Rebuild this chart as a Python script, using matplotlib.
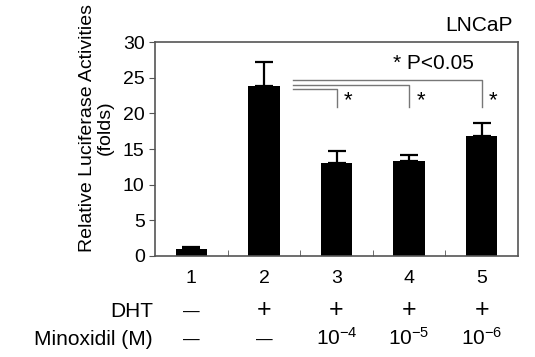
import numpy as np
import matplotlib.pyplot as plt

plt.rcParams['font.family'] = ['Liberation Sans', 'DejaVu Sans']

groups = [1, 2, 3, 4, 5]
means = [1.0, 23.8, 13.1, 13.3, 16.9]
errs = [0.2, 3.4, 1.6, 0.9, 1.7]
dht = ['\u2014', '+', '+', '+', '+']
minox = ['\u2014', '\u2014', '$\\mathregular{10^{-4}}$', '$\\mathregular{10^{-5}}$', '$\\mathregular{10^{-6}}$']
# significance brackets: (target group, horizontal level)
sig_pairs = [(3, 23.4), (4, 24.0), (5, 24.7)]
sig_drop = 20.9

fig = plt.figure(figsize=(5.35, 3.57), dpi=100)
ax = fig.add_axes([0.290, 0.283, 0.678, 0.599])

ax.bar(groups, means, width=0.43, color='black', zorder=2)
ax.errorbar(groups, means, yerr=[np.zeros(len(errs)), errs], fmt='none',
            ecolor='black', elinewidth=1.6, capsize=6.5, capthick=1.6, zorder=3)

for g, lvl in sig_pairs:
    ax.plot([2.4, g, g], [lvl, lvl, sig_drop], color='#777777', lw=1, zorder=1)
    ax.text(g + 0.1, sig_drop + 0.9, '*', fontsize=16, ha='left', va='center')

ax.text(4.34, 27.0, '* P<0.05', fontsize=15, ha='center', va='center')
ax.text(5.43, 32.4, 'LNCaP', fontsize=15, ha='right', va='center', clip_on=False)

ax.set_xlim(0.5, 5.5)
ax.set_ylim(0, 30)
ax.set_yticks([0, 5, 10, 15, 20, 25, 30])
ax.set_xticks(groups)
ax.set_xticks([1.5, 2.5, 3.5, 4.5], minor=True)
ax.tick_params(axis='x', which='major', length=0, labelsize=14, pad=10)
ax.tick_params(axis='x', which='minor', direction='in', length=4, color='#555555')
ax.tick_params(axis='y', direction='out', length=4, labelsize=14, color='#555555')
for s in ax.spines.values():
    s.set_color('#555555')
    s.set_linewidth(1.2)

ax.set_ylabel('Relative Luciferase Activities\n(folds)', fontsize=14, linespacing=1.0)
ax.yaxis.set_label_coords(-0.115, 0.6)

for g, d, m in zip(groups, dht, minox):
    ax.text(g, -8.55, d, fontsize=12 if d == '\u2014' else 18, ha='center',
            va='baseline', clip_on=False)
    ax.text(g, -12.5, m, fontsize=12 if m == '\u2014' else 15, ha='center',
            va='baseline', clip_on=False)
ax.text(0.47, -8.55, 'DHT', fontsize=15, ha='right', va='baseline', clip_on=False)
ax.text(0.47, -12.5, 'Minoxidil (M)', fontsize=15, ha='right', va='baseline', clip_on=False)

fig.savefig('out.png', dpi=100)
